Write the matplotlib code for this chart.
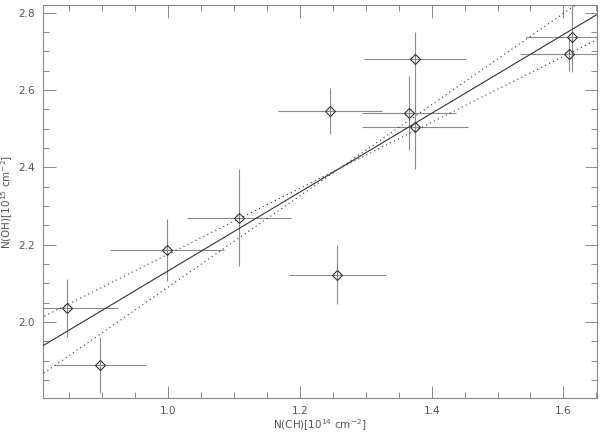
import numpy as np
import matplotlib
matplotlib.use("Agg")
import matplotlib.pyplot as plt
from matplotlib.ticker import MultipleLocator

# N(CH) [1e14 cm^-2], N(OH) [1e15 cm^-2] with errors
n_ch     = [0.847, 0.897, 0.998, 1.108, 1.245, 1.257, 1.375, 1.366, 1.375, 1.613, 1.609]
n_ch_err = [0.077, 0.070, 0.087, 0.079, 0.079, 0.074, 0.077, 0.071, 0.080, 0.070, 0.075]
n_oh     = [2.036, 1.889, 2.185, 2.270, 2.545, 2.122, 2.679, 2.541, 2.503, 2.737, 2.692]
n_oh_err = [0.076, 0.073, 0.080, 0.125, 0.060, 0.076, 0.070, 0.095, 0.107, 0.090, 0.043]

# linear fit and the two bounding slopes (all through the pivot point)
fit_intercept = 1.113
fit_slope     = 1.019
pivot_x       = 1.26
slope_lo      = 0.853
slope_hi      = 1.180

GRAY = "#8a8a8a"
DARK = "#333333"
TEXT = "#555555"

plt.rcParams.update({
    "font.family": "DejaVu Sans",
    "font.size":   7.5,
})

fig = plt.figure(figsize=(6.0, 4.33), dpi=100)
ax = fig.add_axes([0.0717, 0.0808, 0.9233, 0.9077])

ax.errorbar(n_ch, n_oh, xerr=n_ch_err, yerr=n_oh_err, fmt="none",
            ecolor=GRAY, elinewidth=0.8, capsize=0, zorder=2)
ax.plot(n_ch, n_oh, linestyle="none", marker="D", markersize=5.5,
        markerfacecolor="none", markeredgecolor=DARK, markeredgewidth=0.8, zorder=3)

xs = np.array([0.80, 1.66])
pivot_y = fit_intercept + fit_slope * pivot_x
ax.plot(xs, fit_intercept + fit_slope * xs, color=DARK, linewidth=0.8, zorder=4)
ax.plot(xs, pivot_y + slope_lo * (xs - pivot_x), color=DARK, linewidth=0.8,
        linestyle=(0, (1, 3)), zorder=4)
ax.plot(xs, pivot_y + slope_hi * (xs - pivot_x), color=DARK, linewidth=0.8,
        linestyle=(0, (1, 3)), zorder=4)

ax.set_xlim(0.81, 1.651)
ax.set_ylim(1.803, 2.82)

ax.xaxis.set_major_locator(MultipleLocator(0.2))
ax.xaxis.set_minor_locator(MultipleLocator(0.05))
ax.yaxis.set_major_locator(MultipleLocator(0.2))
ax.yaxis.set_minor_locator(MultipleLocator(0.05))
ax.xaxis.set_major_formatter(lambda v, _: f"{v:.1f}")
ax.yaxis.set_major_formatter(lambda v, _: f"{v:.1f}")

ax.tick_params(which="both", direction="in", top=True, right=True,
               color=GRAY, labelcolor=TEXT, width=0.7)
ax.tick_params(which="major", length=9, pad=6)
ax.tick_params(which="minor", length=4.5)
for s in ax.spines.values():
    s.set_color(GRAY)
    s.set_linewidth(0.8)

ax.set_xlabel(r"N(CH)[10$^{14}$ cm$^{-2}$]", color=TEXT, labelpad=1)
ax.set_ylabel(r"N(OH)[10$^{15}$ cm$^{-2}$]", color=TEXT, labelpad=2)

fig.savefig("out.png", dpi=100)
